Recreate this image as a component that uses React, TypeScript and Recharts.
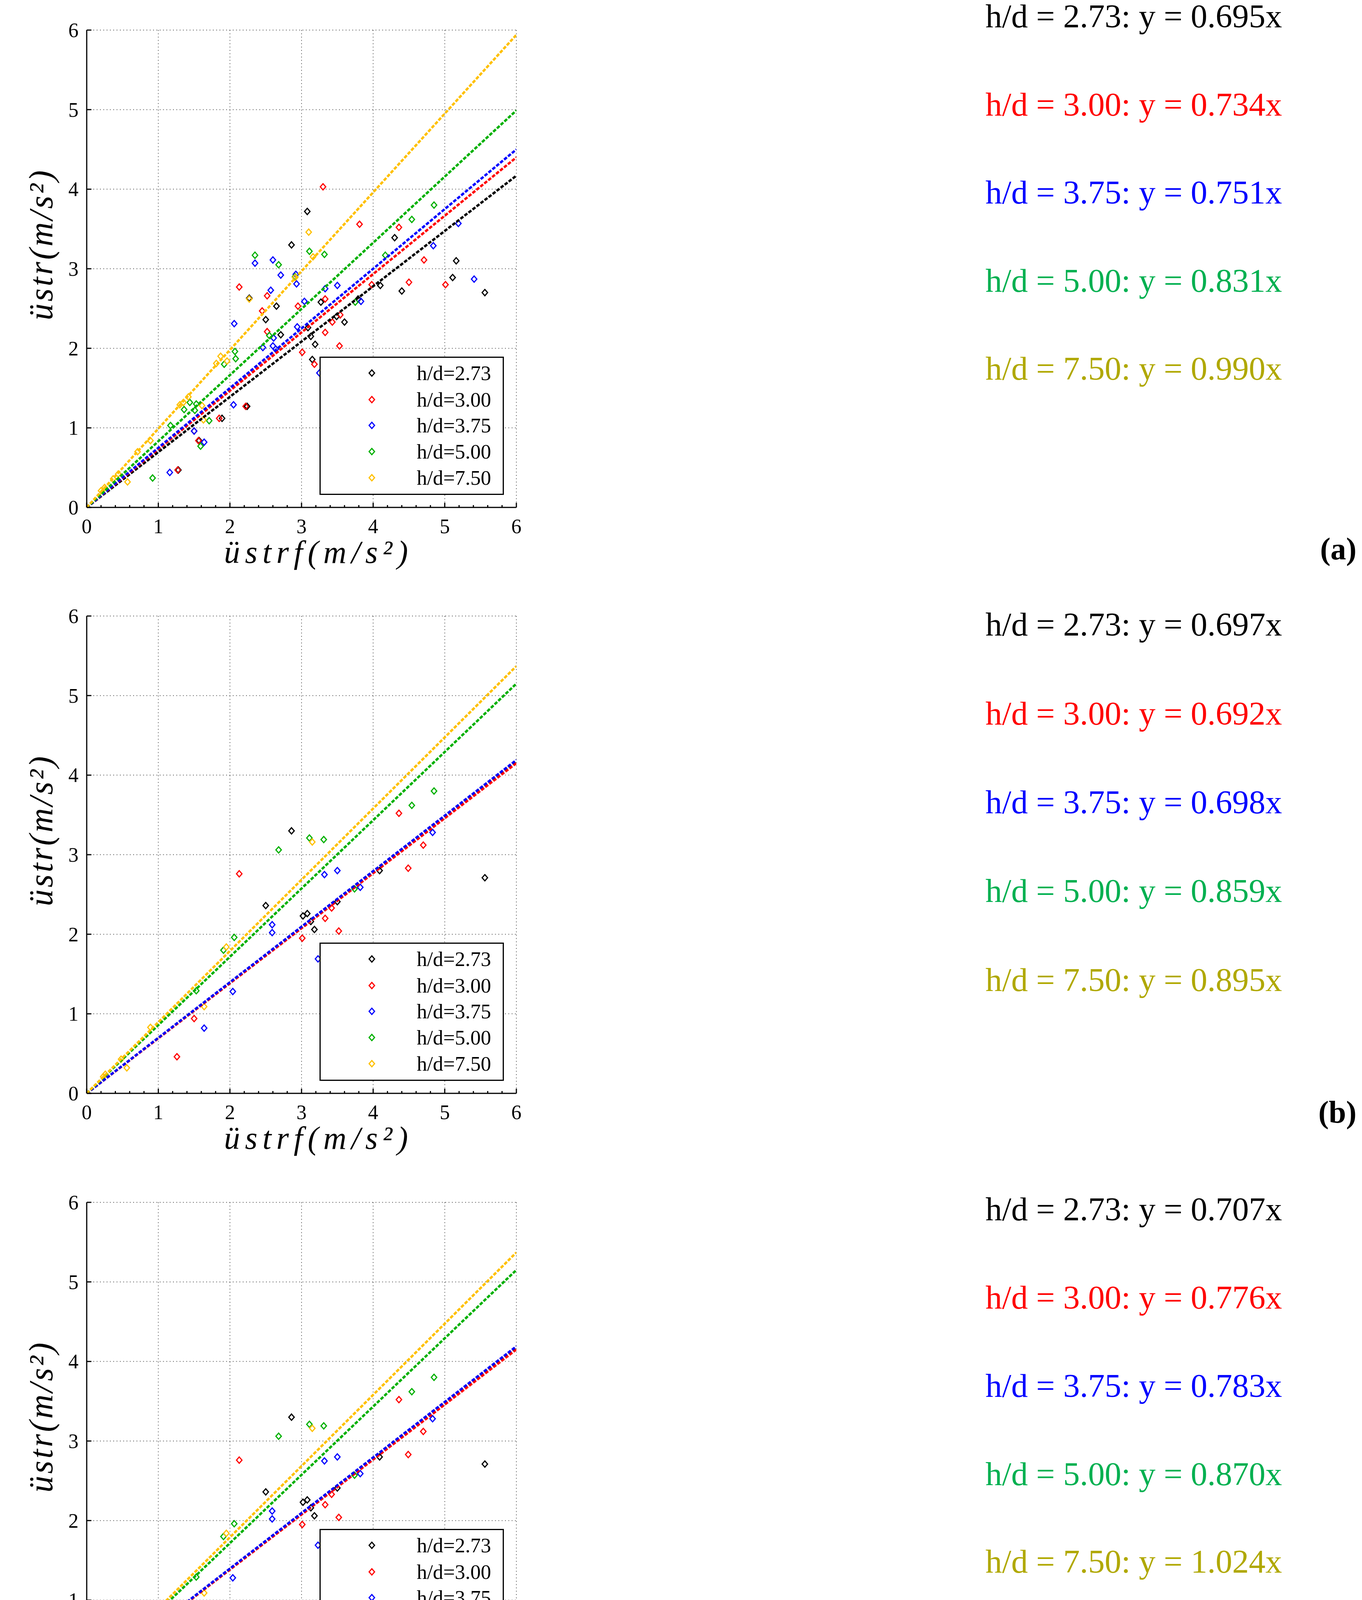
import React from "react";
import { ScatterChart, Scatter, XAxis, YAxis, CartesianGrid, Legend } from "recharts";

type Pt = { x: number; y: number };

// series labels + colours (scatter/lines and the equation text)
const SERIES_NAMES = ["h/d=2.73", "h/d=3.00", "h/d=3.75", "h/d=5.00", "h/d=7.50"];
const MARK_COLORS = ["#000000", "#ff0000", "#0000ff", "#00b000", "#ffc000"];
const TEXT_COLORS = ["#000000", "#ff0000", "#0000ff", "#00b050", "#b0a800"];

const X_TICKS = [
  0, 0.2, 0.4, 0.6, 0.8, 1, 1.2, 1.4, 1.6, 1.8, 2, 2.2, 2.4, 2.6, 2.8, 3, 3.2, 3.4, 3.6, 3.8,
  4, 4.2, 4.4, 4.6, 4.8, 5, 5.2, 5.4, 5.6, 5.8, 6,
];
const Y_TICKS = [0, 1, 2, 3, 4, 5, 6];
const GRID_VALUES = [1, 2, 3, 4, 5, 6];
const FIT_X = [0, 6];

// panel (a) measured points [x, y]
const a273 = [
  [3.08, 3.72], [2.86, 3.3], [2.27, 2.63], [2.65, 2.53], [2.5, 2.36], [2.71, 2.17], [3.27, 2.58],
  [3.09, 2.26], [3.13, 2.15], [3.19, 2.05], [3.15, 1.86], [3.49, 2.4], [3.6, 2.33], [3.79, 2.62],
  [4.1, 2.79], [4.3, 3.39], [4.4, 2.72], [5.11, 2.89], [5.16, 3.1], [5.56, 2.7], [1.89, 1.12],
  [2.24, 1.27], [1.28, 0.47], [1.57, 0.84],
];
const a300 = [
  [3.3, 4.03], [3.81, 3.56], [4.36, 3.52], [2.13, 2.77], [2.45, 2.47], [2.52, 2.66], [2.52, 2.21],
  [2.95, 2.53], [3.33, 2.62], [3.01, 1.95], [3.33, 2.2], [3.43, 2.33], [3.54, 2.42], [3.53, 2.03],
  [3.18, 1.8], [3.98, 2.8], [4.5, 2.83], [4.71, 3.11], [5.01, 2.8], [1.85, 1.12], [2.22, 1.27],
  [1.27, 0.47], [1.56, 0.84], [1.5, 0.96],
];
const a375 = [
  [2.35, 3.07], [2.6, 3.11], [2.92, 2.93], [2.93, 2.81], [2.71, 2.92], [2.57, 2.73], [2.06, 2.31],
  [2.46, 2.01], [2.6, 2.03], [2.61, 2.13], [3.04, 2.59], [2.94, 2.27], [3.33, 2.75], [3.5, 2.79],
  [3.83, 2.59], [4.84, 3.29], [5.19, 3.57], [5.41, 2.87], [3.25, 1.69], [2.05, 1.29], [1.64, 0.82],
  [1.5, 0.96], [1.16, 0.44], [2.64, 1.99],
];
const a500 = [
  [2.35, 3.17], [2.68, 3.05], [3.11, 3.22], [3.32, 3.18], [2.91, 2.9], [4.85, 3.8], [4.54, 3.62],
  [4.17, 3.17], [3.75, 2.58], [2.55, 2.16], [2.07, 1.96], [2.08, 1.87], [1.92, 1.8], [1.36, 1.23],
  [1.44, 1.32], [1.53, 1.3], [1.51, 1.22], [1.17, 1.03], [1.71, 1.09], [1.59, 0.77], [0.92, 0.37],
];
const a750 = [
  [3.1, 3.46], [3.16, 3.15], [2.91, 2.89], [2.27, 2.62], [1.87, 1.9], [1.81, 1.81], [1.96, 1.84],
  [1.61, 1.28], [1.63, 1.1], [1.42, 1.39], [1.3, 1.29], [1.35, 1.32], [0.89, 0.84], [0.71, 0.7],
  [0.57, 0.32], [0.44, 0.42], [0.37, 0.36], [0.25, 0.25], [0.2, 0.21],
];
// fitted line values at x = 6
const aFitEnd = [4.17, 4.4, 4.5, 4.99, 5.94];

// panels (b) and (c) show the same points
const b273 = [
  [2.86, 3.3], [2.5, 2.36], [3.02, 2.23], [3.08, 2.26], [3.13, 2.16], [3.18, 2.06], [3.5, 2.41],
  [4.09, 2.8], [5.56, 2.71],
];
const b300 = [
  [2.13, 2.76], [4.36, 3.52], [4.49, 2.83], [4.7, 3.12], [3.42, 2.33], [3.33, 2.2], [3.52, 2.04],
  [3.01, 1.95], [1.5, 0.94], [1.26, 0.46],
];
const b375 = [
  [2.59, 2.12], [2.59, 2.02], [3.32, 2.75], [3.5, 2.8], [3.82, 2.59], [4.83, 3.28], [2.04, 1.28],
  [1.64, 0.82], [3.23, 1.69],
];
const b500 = [
  [2.68, 3.06], [3.11, 3.21], [3.31, 3.19], [4.54, 3.62], [4.85, 3.8], [3.74, 2.57], [2.06, 1.96],
  [1.91, 1.8], [1.53, 1.29],
];
const b750 = [
  [3.15, 3.16], [1.95, 1.84], [1.64, 1.09], [0.89, 0.83], [0.56, 0.32], [0.26, 0.24], [0.23, 0.21],
  [0.48, 0.43],
];
const bFitEnd = [4.18, 4.15, 4.19, 5.15, 5.37];

const aEquations = ["0.695x", "0.734x", "0.751x", "0.831x", "0.990x"];
const bEquations = ["0.697x", "0.692x", "0.698x", "0.859x", "0.895x"];
const cEquations = ["0.707x", "0.776x", "0.783x", "0.870x", "1.024x"];
const HD_VALUES = ["2.73", "3.00", "3.75", "5.00", "7.50"];

const toPts = (arr: number[][]): Pt[] => arr.map(([x, y]) => ({ x, y }));

const SERIF = "'Liberation Serif', 'Times New Roman', serif";

const Diamond = ({ cx, cy, color }: { cx: number; cy: number; color: string }) => (
  <path
    d={`M${cx},${cy - 8} L${cx + 7},${cy} L${cx},${cy + 8} L${cx - 7},${cy} Z`}
    fill="none"
    stroke={color}
    strokeWidth={3}
  />
);

const XTick = (props: any) => {
  const { x, y, payload } = props;
  const v = payload.value;
  const major = Math.abs(v - Math.round(v)) < 1e-6;
  return (
    <g>
      <line x1={x} x2={x} y1={y} y2={y - (major ? 12 : 6)} stroke="#000" strokeWidth={3} />
      {major && (
        <text x={x} y={y + 66} textAnchor="middle" fontSize={52} fontFamily={SERIF} fill="#000">
          {Math.round(v)}
        </text>
      )}
    </g>
  );
};

const YTick = (props: any) => {
  const { x, y, payload } = props;
  return (
    <g>
      <line x1={x} x2={x + 12} y1={y} y2={y} stroke="#000" strokeWidth={3} />
      <text x={x - 21} y={y + 18} textAnchor="end" fontSize={52} fontFamily={SERIF} fill="#000">
        {payload.value}
      </text>
    </g>
  );
};

const XLabel = (props: any) => {
  const { x, y, width } = props.viewBox;
  return (
    <text
      x={x + width / 2 + 37}
      y={y + 142}
      textAnchor="middle"
      fontSize={82}
      fontStyle="italic"
      fontFamily={SERIF}
      textLength={471}
      lengthAdjust="spacing"
    >
      üstrf(m/s²)
    </text>
  );
};

const YLabel = (props: any) => {
  const { x, y, height } = props.viewBox;
  const bx = x + 12;
  const cy = y + height / 2 - 60;
  return (
    <text
      x={bx}
      y={cy}
      transform={`rotate(-90 ${bx} ${cy})`}
      textAnchor="middle"
      fontSize={86}
      fontStyle="italic"
      fontFamily={SERIF}
      textLength={384}
      lengthAdjust="spacing"
    >
      üstr(m/s²)
    </text>
  );
};

const LEGEND_ROWS = [42, 110, 176, 243, 310];

const LegendBox = () => (
  <svg width={472} height={354} style={{ display: "block" }}>
    <rect x={1.5} y={1.5} width={469} height={351} fill="#fff" stroke="#000" strokeWidth={3} />
    {SERIES_NAMES.map((name, i) => (
      <g key={name}>
        <Diamond cx={134} cy={LEGEND_ROWS[i]} color={MARK_COLORS[i]} />
        <text x={249} y={LEGEND_ROWS[i] + 18} fontSize={53} fontFamily={SERIF} fill="#000">
          {name}
        </text>
      </g>
    ))}
  </svg>
);

function Panel({ plotTop, series, fitEnd }: { plotTop: number; series: number[][][]; fitEnd: number[] }) {
  return (
    <div style={{ position: "absolute", left: 0, top: plotTop - 77 }}>
      <ScatterChart width={1400} height={1500} margin={{ top: 77, right: 78, bottom: 101, left: 122 }}>
        <CartesianGrid
          stroke="#555"
          strokeWidth={2}
          strokeDasharray="2 6.5"
          verticalValues={GRID_VALUES}
          horizontalValues={GRID_VALUES}
        />
        <XAxis
          type="number"
          dataKey="x"
          domain={[0, 6]}
          ticks={X_TICKS}
          interval={0}
          height={100}
          tickSize={0}
          tickMargin={0}
          tickLine={false}
          tick={<XTick />}
          axisLine={{ stroke: "#000", strokeWidth: 3 }}
          allowDataOverflow
          label={<XLabel />}
        />
        <YAxis
          type="number"
          dataKey="y"
          domain={[0, 6]}
          ticks={Y_TICKS}
          interval={0}
          width={100}
          tickSize={0}
          tickMargin={0}
          tickLine={false}
          tick={<YTick />}
          axisLine={{ stroke: "#000", strokeWidth: 3 }}
          allowDataOverflow
          label={<YLabel />}
        />
        {series.map((pts, i) => (
          <Scatter
            key={SERIES_NAMES[i]}
            name={SERIES_NAMES[i]}
            data={toPts(pts)}
            fill={MARK_COLORS[i]}
            shape={(p: any) => <Diamond cx={p.cx} cy={p.cy} color={MARK_COLORS[i]} />}
            isAnimationActive={false}
          />
        ))}
        {fitEnd.map((end, i) => (
          <Scatter
            key={`fit-${i}`}
            data={[
              { x: FIT_X[0], y: 0 },
              { x: FIT_X[1], y: end },
            ]}
            line={{ stroke: MARK_COLORS[i], strokeWidth: 6, strokeDasharray: "9 4" }}
            shape={() => <g />}
            legendType="none"
            isAnimationActive={false}
          />
        ))}
        <Legend
          layout="vertical"
          align="center"
          verticalAlign="middle"
          content={() => <LegendBox />}
          wrapperStyle={{ left: 818, top: 913, width: 472, height: 354 }}
        />
      </ScatterChart>
    </div>
  );
}

function EquationBlock({ baselines, eqs, label, labelBaseline }: { baselines: number[]; eqs: string[]; label: string; labelBaseline: number }) {
  return (
    <g>
      {eqs.map((eq, i) => (
        <text key={i} x={2523} y={baselines[i]} fontSize={85} fontFamily={SERIF} fill={TEXT_COLORS[i]}>
          {`h/d = ${HD_VALUES[i]}: y = ${eq}`}
        </text>
      ))}
      <text x={3473} y={labelBaseline} textAnchor="end" fontSize={80} fontWeight="bold" fontFamily={SERIF} fill="#000">
        {label}
      </text>
    </g>
  );
}

export default function App() {
  const seriesA = [a273, a300, a375, a500, a750];
  const seriesB = [b273, b300, b375, b500, b750];
  return (
    <div
      style={{
        position: "relative",
        width: 3487,
        height: 4485,
        margin: -8,
        background: "#fff",
        overflow: "hidden",
      }}
    >
      <Panel plotTop={77} series={seriesA} fitEnd={aFitEnd} />
      <Panel plotTop={1577} series={seriesB} fitEnd={bFitEnd} />
      <Panel plotTop={3078} series={seriesB} fitEnd={bFitEnd} />
      <svg width={3487} height={4485} style={{ position: "absolute", left: 0, top: 0, pointerEvents: "none" }}>
        <EquationBlock baselines={[70, 296, 521, 747, 972]} eqs={aEquations} label="(a)" labelBaseline={1432} />
        <EquationBlock baselines={[1627, 1855, 2082, 2309, 2537]} eqs={bEquations} label="(b)" labelBaseline={2874} />
        <EquationBlock baselines={[3124, 3350, 3576, 3802, 4026]} eqs={cEquations} label="(c)" labelBaseline={4371} />
      </svg>
    </div>
  );
}
